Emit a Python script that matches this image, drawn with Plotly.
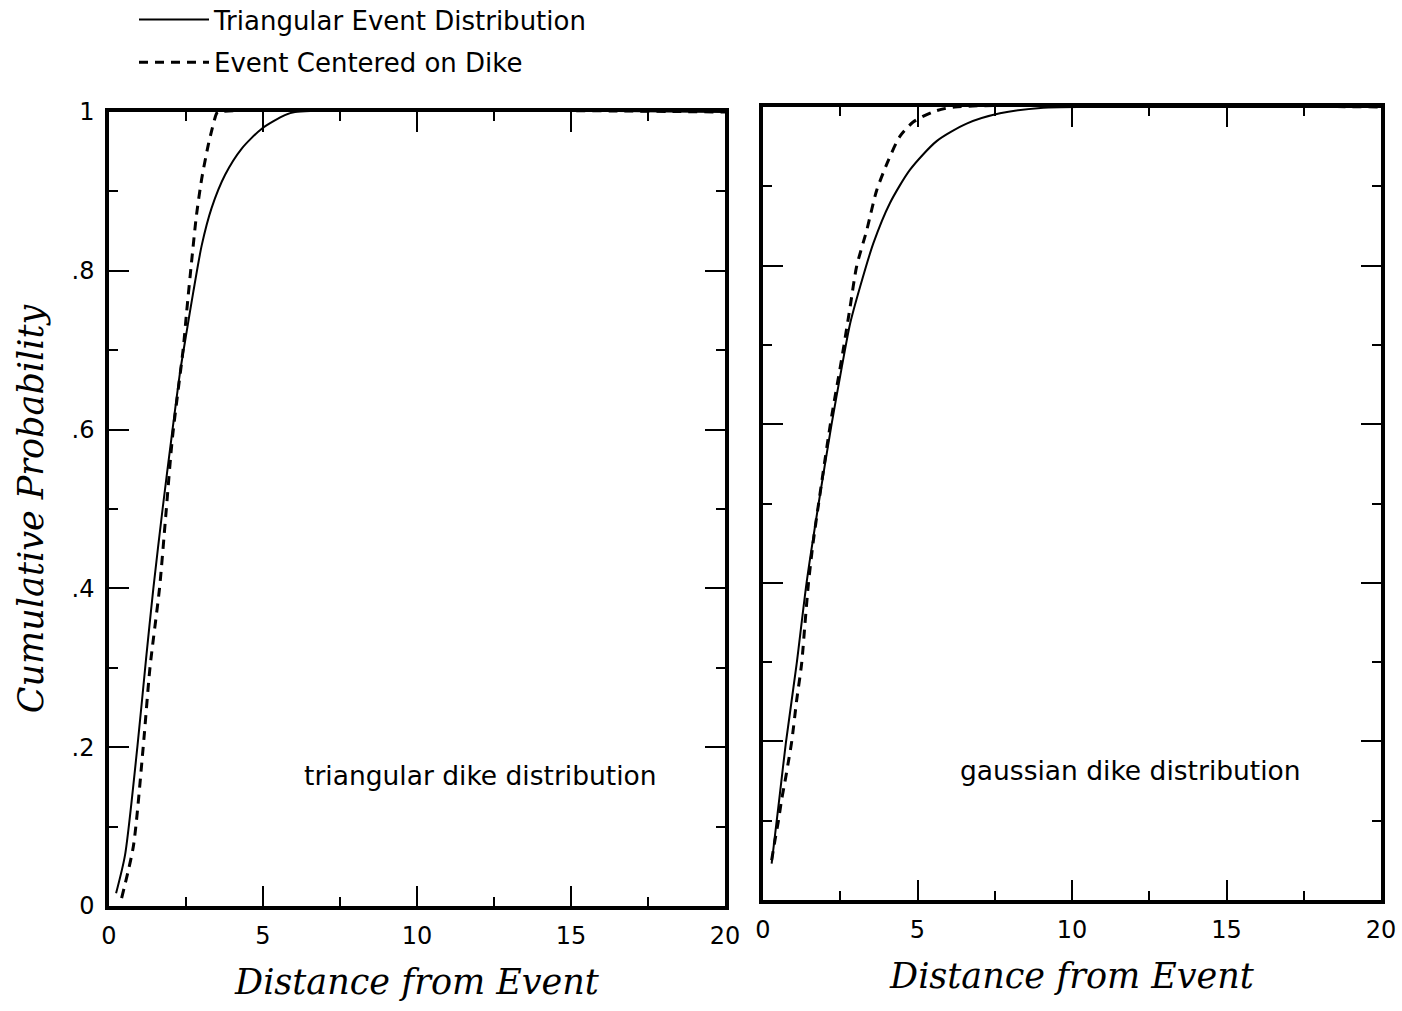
import plotly.graph_objects as go

# ---- data: cumulative probability vs. distance from event ----
# left panel: triangular dike distribution
tri_event_x = [0.23, 0.52, 0.92, 1.20, 1.44, 1.74, 2.03, 2.31, 2.52, 2.74, 3.01, 3.33, 3.77, 4.31, 4.96, 5.71, 6.04, 20.0]
tri_event_y = [0.016, 0.064, 0.20, 0.31, 0.40, 0.50, 0.59, 0.673, 0.723, 0.774, 0.832, 0.879, 0.921, 0.954, 0.979, 0.996, 1.0, 1.0]
tri_center_x = [0.41, 0.79, 1.11, 1.33, 1.64, 1.84, 2.06, 2.41, 2.52, 2.68, 2.84, 3.01, 3.22, 3.35, 3.49, 3.55, 20.0]
tri_center_y = [0.01, 0.075, 0.20, 0.30, 0.40, 0.49, 0.59, 0.702, 0.748, 0.811, 0.870, 0.916, 0.958, 0.979, 0.998, 1.0, 1.0]

# right panel: gaussian dike distribution
gau_event_x = [0.28, 0.55, 0.74, 1.09, 1.41, 1.80, 2.22, 2.55, 2.82, 3.14, 3.57, 4.11, 4.76, 5.62, 6.59, 7.67, 9.07, 10.5, 20.0]
gau_event_y = [0.046, 0.135, 0.198, 0.298, 0.40, 0.50, 0.60, 0.672, 0.727, 0.773, 0.828, 0.879, 0.921, 0.957, 0.979, 0.992, 0.999, 1.0, 1.0]
gau_center_x = [0.28, 0.39, 0.50, 0.60, 0.71, 0.82, 0.93, 1.09, 1.25, 1.36, 1.47, 1.62, 1.80, 2.18, 2.58, 2.82, 3.03, 3.36, 3.68, 4.06, 4.43, 4.86, 5.51, 6.20, 20.0]
gau_center_y = [0.05, 0.076, 0.10, 0.126, 0.149, 0.174, 0.20, 0.252, 0.298, 0.349, 0.399, 0.45, 0.50, 0.60, 0.69, 0.748, 0.799, 0.845, 0.895, 0.933, 0.963, 0.981, 0.994, 1.0, 1.0]

x_tick_vals = [0, 5, 10, 15, 20]
x_tick_text = ["0", "5", "10", "15", "20"]
y_tick_vals = [0, 0.2, 0.4, 0.6, 0.8, 1.0]
y_tick_text = ["0", ".2", ".4", ".6", ".8", "1"]

series_names = ["Triangular Event Distribution", "Event Centered on Dike"]
panel_labels = ["triangular dike distribution", "gaussian dike distribution"]
x_title = "Distance from Event"
y_title = "Cumulative Probability"

W, H = 1402, 1011
SANS = "DejaVu Sans"
SERIF = "DejaVu Serif"

solid = dict(color="black", width=2, shape="spline", smoothing=0.7)
dashed = dict(color="black", width=3, dash="9px,7px", shape="spline", smoothing=0.7)

fig = go.Figure()
fig.add_trace(go.Scatter(x=tri_event_x, y=tri_event_y, mode="lines", line=solid,
                         name=series_names[0], legendgroup="a", xaxis="x", yaxis="y"))
fig.add_trace(go.Scatter(x=tri_center_x, y=tri_center_y, mode="lines", line=dashed,
                         name=series_names[1], legendgroup="b", xaxis="x", yaxis="y"))
fig.add_trace(go.Scatter(x=gau_event_x, y=gau_event_y, mode="lines", line=solid,
                         name=series_names[0], showlegend=False, xaxis="x2", yaxis="y2"))
fig.add_trace(go.Scatter(x=gau_center_x, y=gau_center_y, mode="lines", line=dashed,
                         name=series_names[1], showlegend=False, xaxis="x2", yaxis="y2"))


def px_x(p):
    return p / W


def px_y(p):
    return (H - p) / H


common = dict(
    automargin=False,
    showgrid=False, zeroline=False, showline=True, linecolor="black", linewidth=3.5,
    mirror="ticks", ticks="inside", ticklen=20, tickwidth=2, tickcolor="black",
    tickfont=dict(family=SANS, size=24, color="black"),
)

xaxis_common = dict(common, range=[0, 20], tickmode="array", tickvals=x_tick_vals, ticktext=x_tick_text,
                    minor=dict(ticks="inside", ticklen=9, tickwidth=2, tickcolor="black", dtick=2.5, tick0=0),
                    ticklabelstandoff=5)
yaxis_common = dict(common, range=[0, 1], tickmode="array", tickvals=y_tick_vals, ticktext=y_tick_text,
                    minor=dict(ticks="inside", ticklen=9, tickwidth=2, tickcolor="black", dtick=0.1, tick0=0),
                    ticklabelstandoff=6)

title_font = dict(family=SERIF, size=35, color="black", style="italic")

fig.update_layout(
    template="none",
    width=W, height=H,
    margin=dict(l=0, r=0, t=0, b=0, autoexpand=False),
    paper_bgcolor="white", plot_bgcolor="white",
    xaxis=dict(xaxis_common, domain=[px_x(109), px_x(725)], anchor="y",
               title=dict(text=x_title, font=title_font, standoff=22)),
    yaxis=dict(yaxis_common, domain=[px_y(906), px_y(112)], anchor="x",
               title=dict(text=y_title, font=title_font, standoff=18)),
    xaxis2=dict(xaxis_common, domain=[px_x(763), px_x(1381)], anchor="y2",
                title=dict(text=x_title, font=title_font, standoff=22)),
    yaxis2=dict(yaxis_common, domain=[px_y(900), px_y(107)], anchor="x2", showticklabels=False),
    showlegend=True,
    legend=dict(x=px_x(134), y=px_y(-4), xanchor="left", yanchor="top",
                font=dict(family=SANS, size=26, color="black"),
                bgcolor="rgba(0,0,0,0)", tracegroupgap=6, itemwidth=70),
    annotations=[
        dict(text=panel_labels[0], x=px_x(480), y=px_y(775), xref="paper", yref="paper",
             xanchor="center", yanchor="middle",
             showarrow=False, font=dict(family=SANS, size=26.5, color="black")),
        dict(text=panel_labels[1], x=px_x(1130), y=px_y(770), xref="paper", yref="paper",
             xanchor="center", yanchor="middle",
             showarrow=False, font=dict(family=SANS, size=26.5, color="black")),
    ],
)

fig.write_html("out.html")
